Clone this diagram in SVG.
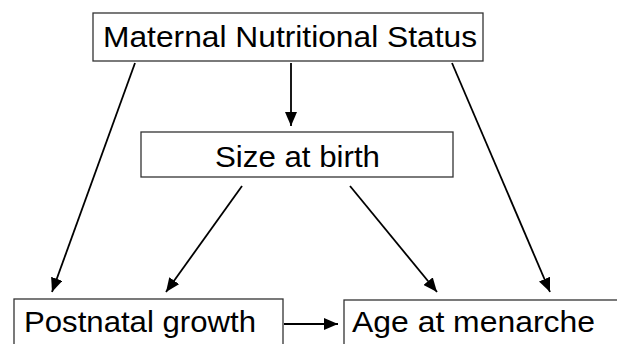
<svg xmlns="http://www.w3.org/2000/svg" width="617" height="344" viewBox="0 0 617 344">
<style>
.box{fill:#fff;stroke:#333;stroke-width:1.3}
.lbl{font-family:"Liberation Sans",Arial,sans-serif;font-size:30px;fill:#000}
.edge{stroke:#000;stroke-width:1.8;fill:none;marker-end:url(#ah)}
</style>
<defs>
<marker id="ah" markerUnits="userSpaceOnUse" markerWidth="14" markerHeight="12" viewBox="0 0 14 12" refX="14" refY="6" orient="auto">
<path d="M0,0 L14,6 L0,12 Z" fill="#000"/>
</marker>
</defs>
<rect width="617" height="344" fill="#fff"/>
<g id="connectors">
<line class="edge" x1="135" y1="63" x2="52" y2="292"/>
<line class="edge" x1="291" y1="63" x2="291" y2="126"/>
<line class="edge" x1="452" y1="63" x2="550" y2="292"/>
<line class="edge" x1="242" y1="186" x2="166" y2="292"/>
<line class="edge" x1="350" y1="186" x2="437" y2="292"/>
<line class="edge" x1="284" y1="324" x2="338" y2="324"/>
</g>
<g id="node-maternal">
<rect class="box" x="93" y="13" width="390" height="48"/>
<text class="lbl" x="103" y="47" textLength="374" lengthAdjust="spacingAndGlyphs">Maternal Nutritional Status</text>
</g>
<g id="node-size">
<rect class="box" x="141" y="132" width="312" height="45"/>
<text class="lbl" x="215" y="167" textLength="165" lengthAdjust="spacingAndGlyphs">Size at birth</text>
</g>
<g id="node-postnatal">
<rect class="box" x="14" y="299" width="269" height="60"/>
<text class="lbl" x="24" y="332" textLength="232" lengthAdjust="spacingAndGlyphs">Postnatal growth</text>
</g>
<g id="node-menarche">
<rect class="box" x="344" y="300" width="290" height="60"/>
<text class="lbl" x="352" y="332" textLength="243" lengthAdjust="spacingAndGlyphs">Age at menarche</text>
</g>
</svg>
